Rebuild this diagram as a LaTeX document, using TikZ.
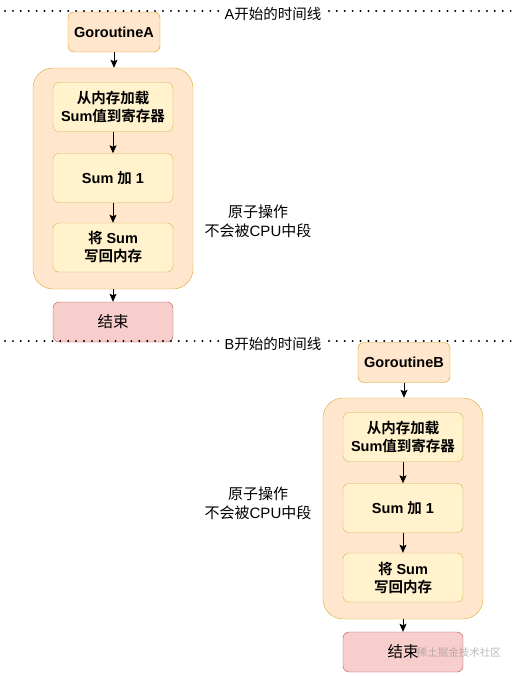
\documentclass[tikz,border=0pt]{standalone}
\usepackage{fontspec}
\setmainfont{Liberation Sans}
\newfontfamily\cjk{Noto Sans CJK SC}[BoldFont={Noto Sans CJK SC Bold}]
\usetikzlibrary{arrows.meta}
\newcommand{\zh}[1]{{\cjk #1}}
\definecolor{orfill}{HTML}{FFE6CC}
\definecolor{orline}{HTML}{D79B00}
\definecolor{grline}{HTML}{DDA930}
\definecolor{yefill}{HTML}{FFF2CC}
\definecolor{yeline}{HTML}{D6B656}
\definecolor{rdfill}{HTML}{F8CECC}
\definecolor{rdline}{HTML}{B85450}
\tikzset{
  startbox/.style={draw=orline, fill=orfill, rounded corners=6pt, minimum width=92pt, minimum height=40pt, font=\bfseries\fontsize{14.5}{16}\selectfont, align=center, inner sep=0pt},
  group/.style={draw=grline, fill=orfill, rounded corners=20pt, minimum width=160pt, minimum height=221pt, inner sep=0pt},
  opbox/.style={draw=yeline, fill=yefill, rounded corners=6pt, minimum width=120pt, minimum height=49pt, font=\bfseries\fontsize{14.5}{18}\selectfont, align=center, inner sep=0pt},
  endbox/.style={draw=rdline, fill=rdfill, rounded corners=6pt, minimum width=120pt, minimum height=40pt, font=\fontsize{15.5}{17}\selectfont, inner sep=0pt},
  timeline/.style={line width=2.2pt, line cap=round, dash pattern=on 0pt off 7.9pt, black},
  tlabel/.style={fill=white, font=\fontsize{14.5}{16}\selectfont, inner sep=1pt},
  note/.style={font=\fontsize{15}{19}\selectfont, align=center},
  conn/.style={-{Stealth[length=8pt,width=7pt,inset=1.5pt]}, line width=0.9pt, black},
}
\begin{document}
\begin{tikzpicture}[x=1pt,y=-1pt]
\useasboundingbox (0,0) rectangle (517,676);
% A chain
\node[startbox] (ga) at (114,32) {GoroutineA};
\node[group] (grpa) at (113,178.5) {};
\node[opbox] (a1) at (113,107) {\zh{从内存加载}\\Sum\zh{值到寄存器}};
\node[opbox] (a2) at (113,178) {Sum \zh{加} 1};
\node[opbox] (a3) at (113,247.5) {\zh{将} Sum\\\zh{写回内存}};
\node[endbox] (ea) at (113,322) {\zh{结束}};
\node[note] (na) at (258,221) {\zh{原子操作}\\\zh{不会被}CPU\zh{中段}};
\draw[conn] (ga) -- (grpa.north -| ga);
\draw[conn] (a1) -- (a2);
\draw[conn] (a2) -- (a3);
\draw[conn] (grpa.south) -- (ea);
% timeline A
\coordinate (la) at (5,11);
\coordinate (ra) at (513,11);
\draw[timeline] (la) -- (ra);
\node[tlabel] (tla) at (273,14) {A\zh{开始的时间线}};
% B chain
\node[startbox] (gb) at (404,362.5) {GoroutineB};
\node[group] (grpb) at (403,508.5) {};
\node[opbox] (b1) at (403,437) {\zh{从内存加载}\\Sum\zh{值到寄存器}};
\node[opbox] (b2) at (403,508) {Sum \zh{加} 1};
\node[opbox] (b3) at (403,577.5) {\zh{将} Sum\\\zh{写回内存}};
\node[endbox] (eb) at (403,652) {\zh{结束}};
\node[note] (nb) at (258,503) {\zh{原子操作}\\\zh{不会被}CPU\zh{中段}};
\draw[conn] (gb) -- (grpb.north -| gb);
\draw[conn] (b1) -- (b2);
\draw[conn] (b2) -- (b3);
\draw[conn] (grpb.south) -- (eb);
% timeline B
\coordinate (lb) at (5,341);
\coordinate (rb) at (513,341);
\draw[timeline] (lb) -- (rb);
\node[tlabel] (tlb) at (273,344) {B\zh{开始的时间线}};
% watermark
\node[anchor=east, text=black!45, opacity=0.6, font=\fontsize{10.5}{12}\selectfont, inner sep=0pt] (wm) at (501,652) {\zh{稀土掘金技术社区}};
\end{tikzpicture}
\end{document}
